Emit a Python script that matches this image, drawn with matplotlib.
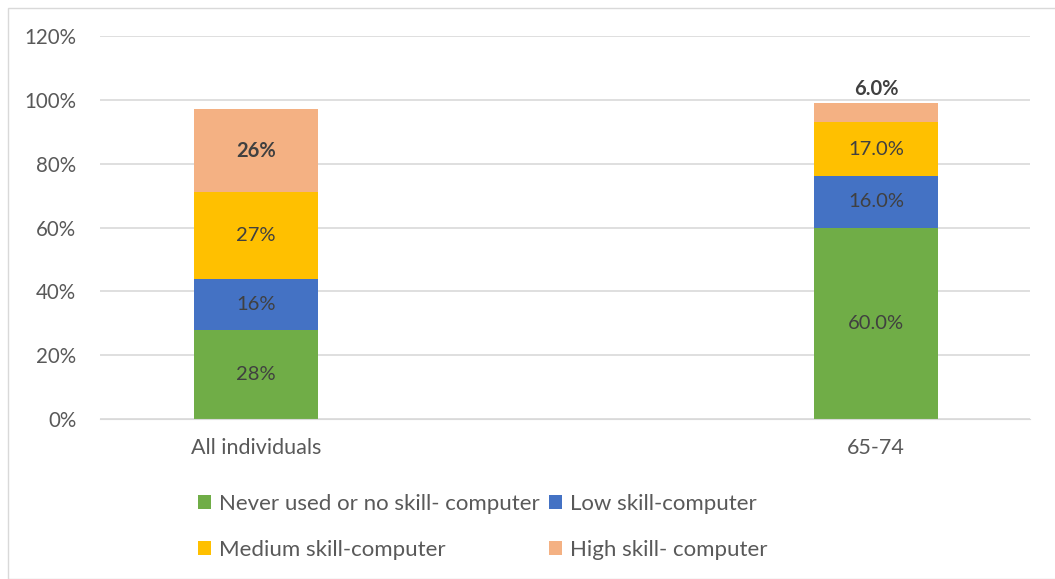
import matplotlib.pyplot as plt
from matplotlib.patches import Rectangle

plt.rcParams['font.family'] = ['Lato', 'DejaVu Sans']

categories = ['All individuals', '65-74']
series = ['Never used or no skill- computer', 'Low skill-computer',
          'Medium skill-computer', 'High skill- computer']
values = [
    [28, 60],
    [16, 16],
    [27, 17],
    [26, 6],
]
labels = [
    ['28%', '60.0%'],
    ['16%', '16.0%'],
    ['27%', '17.0%'],
    ['26%', '6.0%'],
]
colors = ['#70AD47', '#4472C4', '#FFC000', '#F4B183']
yticks = [0, 20, 40, 60, 80, 100, 120]

W, H = 1055, 579
fig = plt.figure(figsize=(W / 100, H / 100), dpi=100)
ax = fig.add_axes([100 / W, 1 - 419 / H, 930 / W, 383 / H])

x = list(range(len(categories)))
bottom = [0] * len(categories)
handles = []
for i, (vals, lab, c) in enumerate(zip(values, labels, colors)):
    h = ax.bar(x, vals, bottom=bottom, width=0.2, color=c, label=series[i], zorder=2)
    handles.append(h)
    for j in range(len(x)):
        last = i == len(values) - 1
        if last and vals[j] < 10:
            ypos = bottom[j] + vals[j] + 1.2
            va = 'bottom'
        else:
            ypos = bottom[j] + vals[j] / 2
            va = 'center'
        ax.text(x[j], ypos, lab[j], ha='center', va=va, fontsize=14.5,
                color='#404040', fontweight='bold' if last else 'normal')
    bottom = [b + v for b, v in zip(bottom, vals)]

ax.set_xlim(-0.2516, 1.248)
ax.set_ylim(0, 120)
ax.set_yticks(yticks)
ax.set_yticklabels([f'{t}%' for t in yticks])
ax.set_xticks(x)
ax.set_xticklabels(categories)
ax.tick_params(axis='y', length=0, labelsize=14.8, colors='#595959', pad=17)
ax.tick_params(axis='x', length=0, labelsize=15.5, colors='#595959', pad=14)
ax.grid(axis='y', color='#D9D9D9', linewidth=1.2, zorder=0)
for s in ax.spines.values():
    s.set_visible(False)
ax.spines['bottom'].set_visible(True)
ax.spines['bottom'].set_color('#D9D9D9')

# matplotlib fills legend column-wise; reorder so rows read Never, Low / Medium, High
order = [0, 2, 1, 3]
fig.legend([handles[k] for k in order], [series[k] for k in order],
           loc='upper left', bbox_to_anchor=(178 / W, 1 - 474 / H), ncol=2,
           frameon=False, fontsize=16, labelcolor='#595959',
           handlelength=0.6, handleheight=0.6, handletextpad=0.35,
           columnspacing=0.4, labelspacing=1.15)

fig.patches.append(Rectangle((8 / W, 0), 1, 1 - 8 / H, transform=fig.transFigure,
                             fill=False, edgecolor='#D9D9D9', linewidth=1))

fig.savefig('out.png', dpi=100)
